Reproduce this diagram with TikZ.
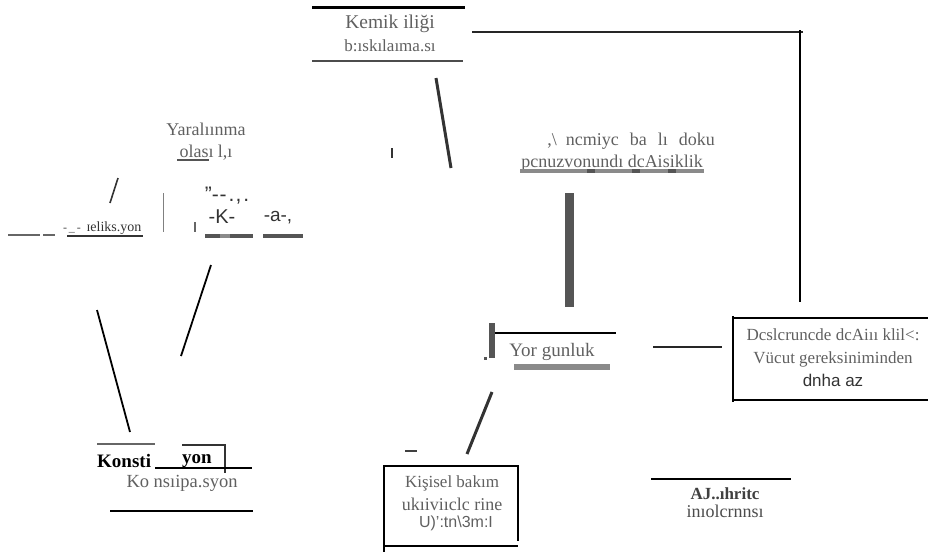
\documentclass[tikz,border=0pt]{standalone}
\usepackage{fontspec}
\setmainfont{Liberation Serif}
\setsansfont{Liberation Sans}
\usepackage{xcolor}
\usetikzlibrary{positioning, calc}

\definecolor{txtgray}{HTML}{606060}
\definecolor{bargray}{HTML}{555555}
\definecolor{lightbar}{HTML}{8A8A8A}

\tikzset{
  lbl/.style={text=txtgray, font=\fontsize{17}{23}\selectfont, align=center, inner sep=0pt},
  slbl/.style={lbl, font=\sffamily\fontsize{17}{23}\selectfont},
  blbl/.style={lbl, text=black!85, font=\bfseries\fontsize{17}{23}\selectfont},
  link/.style={line width=2.2pt, black!85},
  rule/.style={line width=1.8pt, black},
  bar/.style={line width=7pt, bargray},
  uline/.style={line width=4pt, lightbar},
}

\begin{document}
\begin{tikzpicture}[x=1pt, y=-1pt]
  \useasboundingbox (0,0) rectangle (928,552);

  % Kemik iligi
  \node[lbl] (kemik) at (390,33) {{\fontsize{19.5}{23}\selectfont Kemik iliği}\\b:ıskılaıma.sı};
  \draw[line width=3pt] (312,7) -- (465,7);
  \draw[line width=2pt, black!70] (312,61) -- (463,61);
  \coordinate (kemikout) at (472,32);
  \coordinate (corner) at (800,32);
  \coordinate (cornerlow) at (800,302);
  \draw[link] (kemikout) -- ($(corner)+(3,0)$);
  \draw[rule] ($(corner)+(0,-2)$) -- (cornerlow);

  % Anemi
  \node[lbl, font=\fontsize{18}{23}\selectfont] (anemi) at (631,141)
    {,\textbackslash\hspace{9pt}ncmiyc\hspace{11pt}ba\hspace{11pt}lı\hspace{11pt}doku};
  \node[lbl, font=\fontsize{18}{23}\selectfont] (anemi2) at (612,163) {pcnuzvonundı dcAisiklik};
  \draw[uline] (520,171) -- (704,171);
  \foreach \xa in {587,632,668} {
    \draw[line width=4pt, bargray] (\xa,171) -- (\xa+8,171);
  }
  \coordinate (kemikdn) at (436,78);
  \coordinate (anemiup) at (451,168);
  \draw[line width=3pt, black!80] (kemikdn) -- (anemiup);
  \draw[line width=2pt, black!80] (392,148) -- (392,158);
  \coordinate (anemidn) at (569,193);
  \coordinate (yorup) at (569,307);
  \draw[line width=9pt, bargray] (anemidn) -- (yorup);

  % Yorgunluk
  \node[lbl, font=\fontsize{19}{23}\selectfont] (yor) at (552,352) {Yor gunluk};
  \draw[line width=6pt, bargray] (492,323) -- (492,358);
  \fill[bargray] (484,357) rectangle (487,360);
  \draw[line width=1.2pt] (495,333) -- (616,333);
  \draw[line width=6pt, lightbar] (514,367) -- (610,367);
  \coordinate (yorout) at (653,347);
  \coordinate (besin) at (722,347);
  \draw[link] (yorout) -- (besin);

  % Beslenme
  \node[lbl] (besl) at (833,358) {Dcslcruncde dcAiıı klil<:\\Vücut gereksiniminden\\{\sffamily\color{black!80}dnha az}};
  \draw[rule] (733,316) -- (733,402);
  \draw[rule] (733,318) -- (928,318);
  \draw[rule] (733,400) -- (928,400);

  % Kisisel bakim
  \coordinate (yordn) at (492,392);
  \coordinate (kisup) at (467,454);
  \draw[line width=3pt, black!80] (yordn) -- (kisup);
  \draw[line width=2.5pt, black!75] (405,451) -- (417,451);
  \node[lbl] (kis) at (452,493) {Kişisel bakım\\{\fontsize{18}{23}\selectfont ukıiviıclc rine}};
  \node[slbl, font=\sffamily\fontsize{16}{18}\selectfont] (kis3) at (456,523) {U)':tn\textbackslash 3m:I};
  \draw[rule] (383,466) -- (519,466);
  \draw[rule] (384,465) -- (384,552);
  \draw[rule] (518,465) -- (518,541);
  \draw[rule] (384,546) -- (518,546);

  % Agri
  \draw[line width=1.6pt] (651,479) -- (791,479);
  \node[blbl, text=black!75] (agri) at (725,494) {AJ..ıhritc};
  \node[lbl, text=black!70, font=\fontsize{18}{23}\selectfont, below=5pt of agri] (agri2) {inıolcrnnsı};

  % Yaralanma
  \node[lbl, font=\fontsize{18}{22}\selectfont] (yara) at (206,142) {Yaralıınma\\olası l,ı};
  \draw[line width=2.5pt, bargray] (177,160) -- (209,160);
  \draw[line width=1.6pt, black!80] (110,203) -- (118,178);
  \draw[line width=1pt, black!50] (163,193) -- (163,232);
  \draw[line width=1.2pt, black!60] (195,222) -- (195,232);
  \node[slbl, text=black!80, font=\sffamily\fontsize{21}{23}\selectfont] (ya1) at (227,196) {"-\kern1pt-\kern2pt.\kern1pt,\kern2pt.};
  \node[slbl, text=black!80, font=\sffamily\fontsize{20}{23}\selectfont] (ya2) at (222,217) {-K-};
  \node[slbl, text=black!80, font=\sffamily\fontsize{19}{23}\selectfont] (ya3) at (278,218) {-a-,};
  \draw[line width=4pt, bargray] (205,236) -- (220,236);
  \draw[line width=4pt, lightbar] (220,236) -- (230,236);
  \draw[line width=4pt, bargray] (230,236) -- (253,236);
  \draw[line width=4pt, bargray] (263,236) -- (303,236);

  % Refleksiyon
  \draw[line width=2.5pt, black!60] (8,235) -- (40,235);
  \draw[line width=2.5pt, black!60] (43,235) -- (55,235);
  \node[lbl, text=black!70, font=\fontsize{12}{12}\selectfont] (ref0) at (72,231) {-\,\_\,-};
  \node[lbl, text=black!80, font=\fontsize{14}{14}\selectfont] (ref) at (114,228) {ɪeliks.yon};
  \draw[line width=2.5pt, black!80] (67,236) -- (143,236);

  % Konstipasyon
  \coordinate (refdn) at (97,310);
  \coordinate (konup) at (130,432);
  \draw[line width=1.8pt] (refdn) -- (konup);
  \coordinate (yaradn) at (211,265);
  \coordinate (konup2) at (181,356);
  \draw[line width=1.8pt] (yaradn) -- (konup2);
  \draw[line width=1.5pt, black!60] (97,444) -- (155,444);
  \draw[line width=1.5pt, black!80] (182,445) -- (225,445) -- (225,473);
  \node[blbl, text=black, font=\bfseries\fontsize{19}{23}\selectfont, anchor=west] (kon1) at (97,461) {Konsti};
  \node[blbl, text=black, font=\bfseries\fontsize{19}{23}\selectfont, anchor=west] (kon2) at (182,461) {yon};
  \draw[line width=2.5pt] (155,468) -- (252,468);
  \node[lbl, font=\fontsize{18.5}{23}\selectfont] (kon) at (182,483) {Ko nsıipa.syon};
  \draw[line width=1.4pt] (110,511) -- (253,511);
\end{tikzpicture}
\end{document}
